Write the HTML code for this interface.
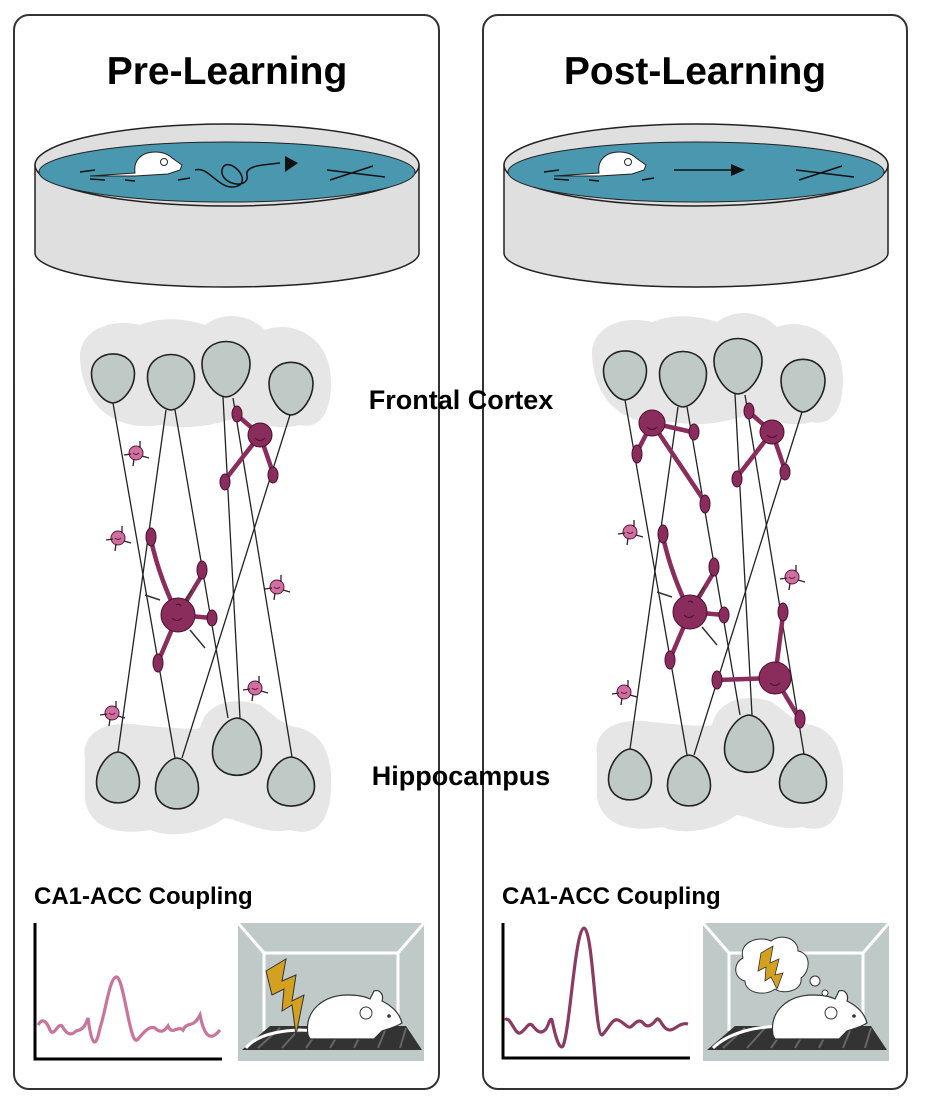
<!DOCTYPE html>
<html><head><meta charset="utf-8"><style>
html,body{margin:0;padding:0;background:#fff;}
svg{display:block;}
text{font-family:"Liberation Sans",sans-serif;font-weight:bold;fill:#000;}
</style></head><body>
<svg width="940" height="1111" viewBox="0 0 940 1111" xmlns="http://www.w3.org/2000/svg">
<defs>
<path id="nr" d="M0 1 C-0.5 0.98 -1 0.7 -1 0.45 C-1 -0.05 1 -0.05 1 0.45 C1 0.7 0.5 0.98 0 1Z" fill="#bfcac7" stroke="#222" stroke-width="1.6" vector-effect="non-scaling-stroke"/>
<g id="pool">
 <path d="M35,165 L35,253 A192,34 0 0 0 419,253 L419,165Z" fill="#e0dfe0" stroke="#222" stroke-width="1.5"/>
 <ellipse cx="227" cy="165" rx="192" ry="41" fill="#e0dfe0" stroke="#222" stroke-width="1.5"/>
 <ellipse cx="227" cy="172" rx="188" ry="30" fill="#4a97b0" stroke="#222" stroke-width="1"/>
</g>
<g id="small"><circle r="7" fill="#d070a0" stroke="#5a1a3a" stroke-width="1"/><path d="M-12,2 L-5,1 M4,-5 L4,-12 M6,3 L13,5 M-2,6 L-3,13" stroke="#3a1a2a" stroke-width="1.3"/><path d="M-3,0 q3,3 6,0" stroke="#5a1a3a" fill="none" stroke-width="1"/></g>
<g id="halos">
 <path d="M80,360 C78,330 110,318 140,325 C165,315 190,320 205,325 C225,310 250,315 265,330 C290,320 325,335 330,370 C335,410 320,430 300,425 C275,432 250,420 235,418 C215,425 190,430 160,425 C130,430 85,420 80,360Z" fill="#e6e6e6"/>
 <path d="M85,760 C80,730 110,720 140,725 C170,728 195,730 200,728 C205,705 230,695 260,705 C275,715 280,725 300,728 C325,735 335,760 330,800 C325,830 310,835 290,830 C265,835 240,820 225,818 C200,835 170,838 150,830 C120,835 90,830 85,800Z" fill="#e6e6e6"/>
</g>
<g id="lines" stroke="#222" stroke-width="1.3">
 <line x1="113" y1="403" x2="175" y2="758"/>
 <line x1="166" y1="410" x2="118" y2="752"/>
 <line x1="175" y1="410" x2="228" y2="718"/>
 <line x1="223" y1="397" x2="240" y2="718"/>
 <line x1="233" y1="398" x2="292" y2="757"/>
 <line x1="290" y1="415" x2="182" y2="758"/>
</g>
<g id="neurons">
 <use href="#nr" transform="translate(113,350) scale(21.5,53)"/>
 <use href="#nr" transform="translate(171,350) scale(23.5,60)"/>
 <use href="#nr" transform="translate(226,337) scale(24,60)"/>
 <use href="#nr" transform="translate(291,358) scale(22,57)"/>
 <use href="#nr" transform="translate(118,807) scale(21.5,-55)"/>
 <use href="#nr" transform="translate(177,813) scale(21.5,-55)"/>
 <use href="#nr" transform="translate(237,780) scale(24.5,-62)"/>
 <use href="#nr" transform="translate(291,810) scale(23.5,-53)"/>
</g>
<g id="bigcell" fill="#8b2d5c" stroke="#4a1030">
 <path d="M178,615 Q160,580 151,540 M178,615 L202,575 M178,615 L212,618 M178,615 L158,662" stroke="#8b2d5c" stroke-width="4.5" fill="none"/>
 <path d="M160,600 L145,595 M190,630 L205,648 M185,600 L192,590" stroke="#333" stroke-width="1.5"/>
 <circle cx="178" cy="615" r="17" stroke-width="1"/>
 <ellipse cx="151" cy="537" rx="5" ry="9"/><ellipse cx="202" cy="570" rx="5" ry="9"/><ellipse cx="212" cy="618" rx="5" ry="8"/><ellipse cx="158" cy="663" rx="5" ry="9"/>
 <path d="M172,618 q5,5 10,0 M176,605 q3,-2 5,1" stroke="#4a1030" fill="none"/>
</g>
<g id="trcell" fill="#8b2d5c" stroke="#4a1030">
 <path d="M260,435 L237,415 M260,435 L225,480 M260,435 L273,473" stroke="#8b2d5c" stroke-width="4.5" fill="none"/>
 <circle cx="260" cy="435" r="12" stroke-width="1"/>
 <ellipse cx="237" cy="414" rx="5" ry="8"/><ellipse cx="225" cy="482" rx="5" ry="8"/><ellipse cx="273" cy="475" rx="5" ry="8"/>
 <path d="M255,438 q5,5 10,0" stroke="#4a1030" fill="none"/>
</g>
<g id="cage">
 <rect x="0" y="0" width="186" height="138" fill="#bfcac8"/>
 <path d="M0,0 L26,30 M186,0 L160,30 M26,30 L160,30 L160,110 M26,30 L26,108" stroke="#fff" stroke-width="3" fill="none"/>
 <path d="M4,127 L32,103 L168,103 L184,127Z" fill="#333"/>
 <path d="M20,125 L42,105 M44,125 L62,105 M68,125 L82,105 M92,125 L104,105 M116,125 L126,105 M140,125 L148,105 M162,125 L168,105" stroke="#666" stroke-width="2"/>
</g>
<g id="cmouse">
 <path d="M70,112 C66,88 85,72 110,72 C122,72 128,74 132,76 L136,68 C142,66 146,72 144,78 C156,84 162,92 164,100 C158,104 150,106 144,108 L136,116 L72,116Z" fill="#fff" stroke="#333" stroke-width="1.2"/>
 <circle cx="128" cy="90" r="6" fill="#fff" stroke="#333"/><circle cx="151" cy="93" r="1.8" fill="#333"/>
</g>
</defs>

<rect x="14" y="15" width="425" height="1074" rx="15" fill="#fff" stroke="#333" stroke-width="2"/>
<rect x="483" y="15" width="424" height="1074" rx="15" fill="#fff" stroke="#333" stroke-width="2"/>

<text x="227" y="84" font-size="39" text-anchor="middle">Pre-Learning</text>
<text x="695" y="84" font-size="39" text-anchor="middle">Post-Learning</text>

<use href="#pool"/>
<g stroke="#111" fill="none" stroke-width="1.5">
 <path d="M80,172 L95,170 M90,179 L105,180 M125,180 L135,181 M178,180 L190,178"/>
 <path d="M195,170 C210,165 220,195 240,185 C250,175 225,155 222,170 C220,185 250,190 247,175 C245,165 265,165 280,163"/>
 <path d="M327,170 L385,177 M330,180 L373,166"/>
</g>
<path d="M285,156 L298,163 L285,172Z" fill="#111"/>
<path d="M90,176 L135,173 C133,160 142,152 155,152 C165,152 170,156 172,158 L182,165 L180,170 L168,174 L135,176Z" fill="#fff" stroke="#222" stroke-width="1"/>
<circle cx="164" cy="162" r="3.5" fill="#fff" stroke="#222"/>

<g transform="translate(469,0)">
 <use href="#pool"/>
 <g stroke="#111" fill="none" stroke-width="1.5">
  <path d="M75,172 L90,170 M85,179 L100,180 M120,180 L130,181 M173,180 L185,178"/>
  <path d="M205,170 L265,170"/>
  <path d="M327,170 L385,177 M330,180 L373,166"/>
 </g>
 <path d="M262,164 L276,170 L262,176Z" fill="#111"/>
 <path d="M85,176 L130,173 C128,160 137,152 150,152 C160,152 165,156 167,158 L177,165 L175,170 L163,174 L130,176Z" fill="#fff" stroke="#222" stroke-width="1"/>
 <circle cx="159" cy="162" r="3.5" fill="#fff" stroke="#222"/>
</g>

<use href="#halos"/>
<use href="#lines"/>
<use href="#neurons"/>
<use href="#bigcell"/>
<use href="#trcell"/>
<use href="#small" x="136" y="453"/>
<use href="#small" x="118" y="538"/>
<use href="#small" x="277" y="587"/>
<use href="#small" x="112" y="713"/>
<use href="#small" x="255" y="688"/>

<g transform="translate(512,-3)">
 <use href="#halos"/>
 <use href="#lines"/>
 <use href="#neurons"/>
 <use href="#bigcell"/>
 <use href="#trcell"/>
 <g fill="#8b2d5c" stroke="#4a1030">
  <path d="M140,426 L125,455 M140,426 L180,435 M140,426 L193,505 M263,681 L206,683 M263,681 L271,618 M263,681 L287,721" stroke="#8b2d5c" stroke-width="4.5" fill="none"/>
  <circle cx="140" cy="426" r="13" stroke-width="1"/>
  <circle cx="263" cy="681" r="16" stroke-width="1"/>
  <ellipse cx="125" cy="457" rx="5" ry="9"/><ellipse cx="182" cy="435" rx="5" ry="8"/><ellipse cx="193" cy="507" rx="5" ry="9"/>
  <ellipse cx="205" cy="683" rx="5" ry="9"/><ellipse cx="271" cy="615" rx="5" ry="9"/><ellipse cx="288" cy="722" rx="5" ry="9"/>
  <path d="M135,430 q5,5 10,0 M258,686 q5,5 10,0" stroke="#4a1030" fill="none"/>
 </g>
 <use href="#small" x="118" y="535"/>
 <use href="#small" x="280" y="580"/>
 <use href="#small" x="112" y="695"/>
</g>

<text x="461" y="409" font-size="27" text-anchor="middle">Frontal Cortex</text>
<text x="461" y="785" font-size="27" text-anchor="middle">Hippocampus</text>

<text x="34" y="904" font-size="24">CA1-ACC Coupling</text>
<path d="M35,923 L35,1059 L222,1059" stroke="#000" stroke-width="3" fill="none"/>
<path d="M38,1025 C42,1018 46,1020 50,1030 C54,1038 58,1022 62,1026 C66,1033 70,1037 76,1031 C80,1030 84,1030 88,1018 C92,1048 96,1048 100,1028 C106,1010 110,975 117,977 C124,980 130,1045 137,1040 C142,1035 148,1025 155,1028 C160,1033 164,1032 168,1026 C172,1036 178,1025 183,1030 C188,1020 192,1030 200,1015 C205,1040 212,1040 220,1030" stroke="#c9749c" stroke-width="3.2" fill="none"/>
<g transform="translate(238,923)">
 <use href="#cage"/>
 <path d="M8,125 C20,110 50,105 80,108" stroke="#fff" stroke-width="3" fill="none"/>
 <use href="#cmouse"/>
 <path d="M28,48 L48,36 L44,58 L58,52 L54,78 L66,72 L58,112 L54,82 L44,88 L46,66 L34,72 Z" fill="#d4a020" stroke="#333" stroke-width="1"/>
</g>

<text x="502" y="904" font-size="24">CA1-ACC Coupling</text>
<path d="M503,923 L503,1058 L690,1058" stroke="#000" stroke-width="3" fill="none"/>
<path d="M505,1020 C510,1015 515,1035 520,1033 C526,1030 528,1022 532,1025 C536,1030 540,1035 545,1030 C548,1028 550,1016 552,1020 C556,1040 560,1050 563,1046 C570,1030 575,930 584,928 C593,930 595,1035 602,1035 C608,1030 612,1018 618,1020 C624,1022 628,1030 632,1026 C636,1022 640,1018 644,1024 C648,1028 652,1025 656,1020 C660,1015 662,1030 670,1030 C675,1030 680,1022 688,1024" stroke="#8b3a62" stroke-width="3.2" fill="none"/>
<g transform="translate(703,923)">
 <use href="#cage"/>
 <path d="M10,125 C25,110 55,102 80,104" stroke="#fff" stroke-width="3" fill="none"/>
 <use href="#cmouse"/>
 <path d="M40,35 C35,20 55,12 68,18 C78,10 95,15 95,28 C108,30 108,48 98,55 C100,68 80,72 72,66 C62,74 42,70 42,58 C30,55 30,40 40,35Z" fill="#fff" stroke="#333" stroke-width="1"/>
 <circle cx="112" cy="58" r="5" fill="#fff" stroke="#333"/><circle cx="122" cy="70" r="3" fill="#fff" stroke="#333"/>
 <path d="M58,30 L70,23 L67,40 L76,36 L72,52 L80,50 L74,66 L68,54 L62,58 L63,44 L55,48 Z" fill="#d4a020" stroke="#333" stroke-width="0.8"/>
</g>
</svg>
</body></html>
